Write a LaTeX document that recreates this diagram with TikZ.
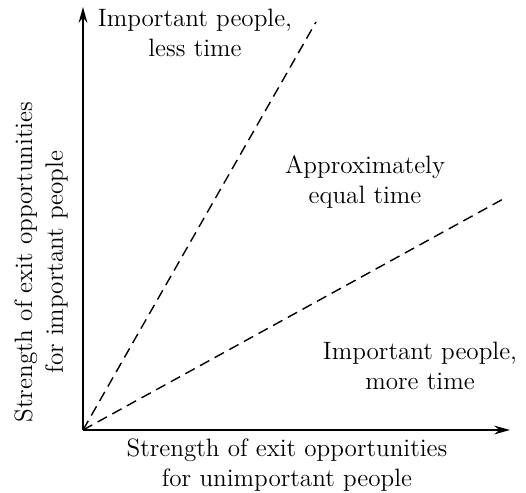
\documentclass[tikz,border=0pt]{standalone}
\usetikzlibrary{arrows.meta}
\begin{document}
\begin{tikzpicture}[font=\fontsize{14.3}{17.5}\selectfont]
    \useasboundingbox (-1.66,-1.24) rectangle (8.86,8.6);
    \coordinate (O) at (0,0);
    \coordinate (X) at (8.54,0);
    \coordinate (Y) at (0,8.46);
    \coordinate (A) at (4.66,8.16);
    \coordinate (B) at (8.44,4.64);
    \draw [thick,-{Stealth[length=9pt,width=5pt]}] (O)--(X);
    \draw [thick,-{Stealth[length=9pt,width=5pt]}] (O)--(Y);
    \draw [thick,dash pattern=on 6pt off 3.5pt] (O)--(A);
    \draw [thick,dash pattern=on 6pt off 3.5pt] (O)--(B);
    \node [align=center] (less) at (2.24,7.94) {Important people,\\less time};
    \node [align=center] (equal) at (5.64,4.96) {Approximately\\equal time};
    \node [align=center] (more) at (6.74,1.28) {Important people,\\more time};
    \node [align=center] (xlab) at (4.08,-0.70) {Strength of exit opportunities\\for unimportant people};
    \node [align=center,rotate=90] (ylab) at (-0.84,3.36) {Strength of exit opportunities\\for important people};
  \end{tikzpicture}
\end{document}
